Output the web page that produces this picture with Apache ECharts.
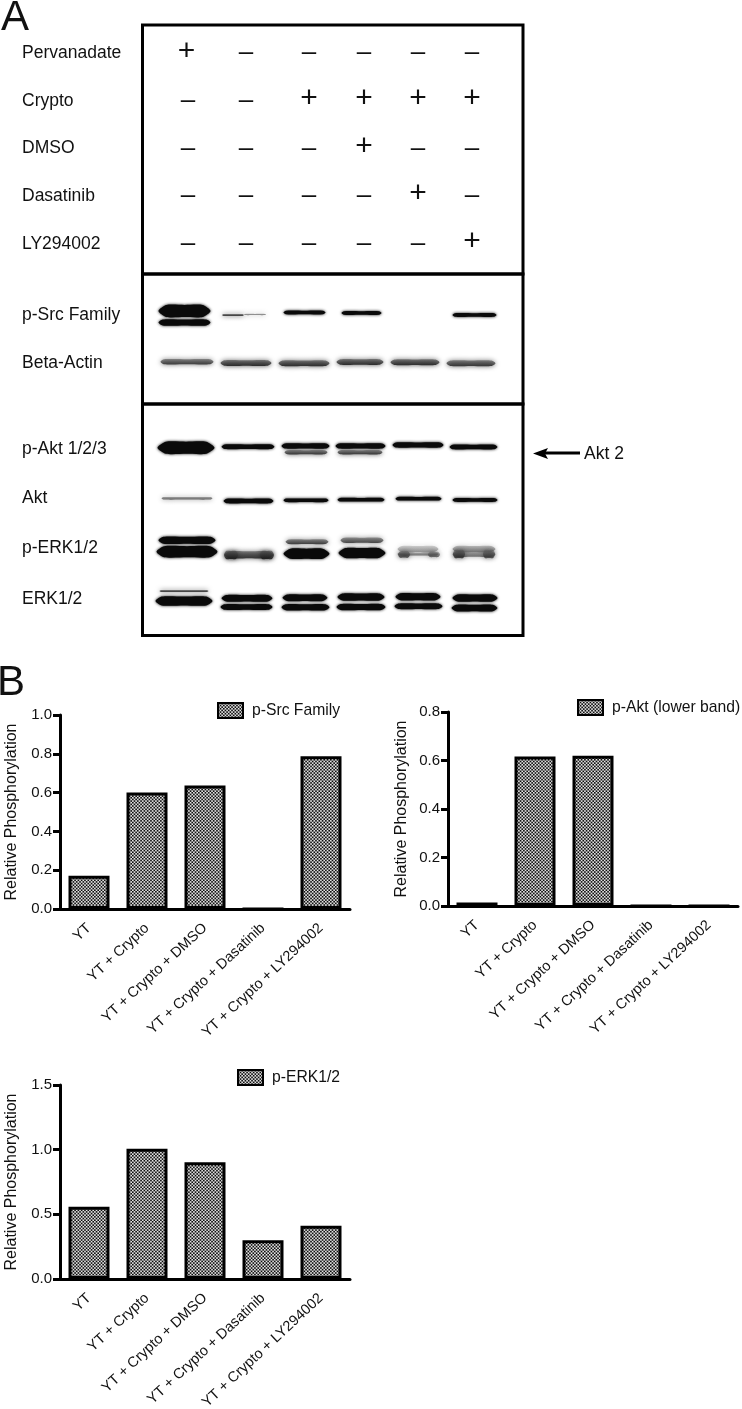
<!DOCTYPE html>
<html>
<head>
<meta charset="utf-8">
<script src="https://cdn.jsdelivr.net/npm/echarts@6/dist/echarts.min.js"></script>
<style>
  html, body { margin: 0; padding: 0; background: #fff; }
  #chart { width: 742px; height: 1409px; }
</style>
</head>
<body>
<div id="chart"></div>
<script>
// treatment table, panel A
var treatments = ['Pervanadate', 'Crypto', 'DMSO', 'Dasatinib', 'LY294002'];
var lanes = [45, 103, 166, 221, 275, 329];
var pervanadateSigns = ['+', '-', '-', '-', '-', '-'];
var cryptoSigns = ['-', '-', '+', '+', '+', '+'];
var dmsoSigns = ['-', '-', '-', '+', '-', '-'];
var dasatinibSigns = ['-', '-', '-', '-', '+', '-'];
var lySigns = ['-', '-', '-', '-', '-', '+'];

// blot bands: [position along membrane, migration, width, thickness, density]
var pSrcBands = [
    [41.5, 37, 52, 12, 1], [41.5, 48.5, 52, 6, 1],
    [90, 41, 22, 2, 0.8], [112, 40.5, 22, 1.2, 0.5],
    [161.5, 38.5, 42, 3.5, 1], [218.5, 39, 40, 3.5, 1], [331.5, 41, 44, 3.5, 1]
];
var actinBands = [
    [44, 87.7, 53, 5, 0.7], [103, 89, 51, 5.5, 0.8], [161, 89.3, 51, 5.5, 0.8],
    [217, 88, 47, 5.5, 0.8], [272, 88.3, 49, 5.5, 0.8], [328, 89.3, 49, 5.5, 0.75]
];
var pAktBands = [
    [43, 43.7, 57, 12, 1], [105, 42.7, 53, 4.5, 1],
    [162.5, 42, 48, 5, 1], [163, 48.3, 43, 4, 0.75],
    [217.5, 42, 50, 5, 1], [217, 48.3, 45, 4, 0.75],
    [275, 41, 51, 5, 1], [330.5, 43, 48, 4.5, 1]
];
var aktBands = [
    [44, 94.3, 51, 2.5, 0.55], [105.5, 97, 50, 4.5, 1], [163, 96.3, 45, 3.5, 1],
    [218, 95.7, 47, 3.5, 1], [275.5, 94.7, 46, 3.5, 1], [332, 96, 45, 3.5, 1]
];
var pErkBands = [
    [44, 136.3, 57, 7, 1], [44, 147.7, 61, 11, 1],
    [106, 150.7, 49, 7, 0.75], [88, 151, 14, 8, 0.8], [124, 151, 14, 8, 0.8],
    [164, 137.7, 43, 4.5, 0.7], [163.5, 149.7, 46, 10, 1],
    [219, 136.3, 43, 5, 0.65], [219, 149, 47, 10, 1],
    [275, 145, 41, 6, 0.2], [275, 150, 41, 3, 0.45], [261, 150.5, 12, 6, 0.65], [291, 150.5, 12, 5, 0.5],
    [331, 145, 43, 6, 0.35], [331, 150.3, 43, 5, 0.45], [316, 150, 12, 8, 0.7], [346, 150, 12, 8, 0.6]
];
var erkBands = [
    [41, 187, 49, 2, 0.8], [41, 197, 57, 9, 1],
    [104, 194.3, 51, 6.5, 1], [103.5, 203, 52, 5.5, 1],
    [162, 193.7, 45, 6.5, 1], [162.5, 203.3, 48, 6, 1],
    [218, 193, 47, 7, 1], [218, 203, 49, 6, 1],
    [275, 192.7, 45, 7, 1], [275.5, 202.3, 48, 5.5, 1],
    [332, 194, 45, 7, 1], [331.5, 204, 46, 6.5, 1]
];

// bar charts, panel B
var groups = ['YT', 'YT + Crypto', 'YT + Crypto + DMSO', 'YT + Crypto + Dasatinib', 'YT + Crypto + LY294002'];
var pSrcValues = [0.172, 0.601, 0.636, 0, 0.787];
var pAktValues = [0.014, 0.616, 0.62, 0, 0];
var pErkValues = [0.559, 1.007, 0.902, 0.3, 0.412];

var font = '"Liberation Sans", Arial, sans-serif';
var ink = '#111';

function makePattern() {
    var c = document.createElement('canvas');
    var cell = 1.65;
    c.width = 33;
    c.height = 33;
    var ctx = c.getContext('2d');
    ctx.fillStyle = '#e6e6e6';
    ctx.fillRect(0, 0, 33, 33);
    ctx.fillStyle = '#0c0c0c';
    for (var i = 0; i < 20; i++) {
        for (var j = 0; j < 20; j++) {
            if ((i + j) % 2 === 0) {
                ctx.fillRect(i * cell, j * cell, cell, cell);
            }
        }
    }
    return { image: c, repeat: 'repeat' };
}
var pattern = makePattern();

var signData = [];
[pervanadateSigns, cryptoSigns, dmsoSigns, dasatinibSigns, lySigns].forEach(function (row, r) {
    row.forEach(function (s, l) {
        signData.push([lanes[l], r, s === '+' ? 1 : 0]);
    });
});

function renderSign(params, api) {
    var p = api.coord([api.value(0), api.value(1)]);
    var plus = api.value(2) === 1;
    return {
        type: 'text',
        style: {
            x: p[0] + (plus && api.value(0) === lanes[0] ? -1.5 : 0),
            y: p[1] + (plus ? -2 : 0),
            text: plus ? '+' : '\u2013',
            fontFamily: font,
            fontSize: plus ? 30 : 26,
            fill: ink,
            align: 'center',
            verticalAlign: 'middle'
        }
    };
}

function renderBand(params, api) {
    var p = api.coord([api.value(0), api.value(1)]);
    var s = api.size([api.value(2), api.value(3)]);
    var d = api.value(4);
    var v = Math.round(10 + (1 - d) * 70);
    var col = 'rgba(' + v + ',' + v + ',' + v + ',' + (0.35 + 0.65 * d) + ')';
    var fill = col;
    if (d < 1) {
        // partial bands are paler on the upper edge
        var top = 'rgba(' + (v + 60) + ',' + (v + 60) + ',' + (v + 60) + ',' + (0.2 + 0.6 * d) + ')';
        fill = new echarts.graphic.LinearGradient(0, 0, 0, 1, [
            { offset: 0, color: top },
            { offset: 1, color: col }
        ]);
    }
    var x0 = p[0] - s[0] / 2;
    var x1 = p[0] + s[0] / 2;
    var t = Math.min(s[1] * 0.7, s[0] * 0.15);
    return {
        type: 'polygon',
        shape: {
            smooth: 0.25,
            points: [
                [x0, p[1]],
                [x0 + t, p[1] - s[1] / 2],
                [p[0], p[1] - s[1] / 2],
                [x1 - t, p[1] - s[1] / 2],
                [x1, p[1]],
                [x1 - t, p[1] + s[1] / 2],
                [p[0], p[1] + s[1] / 2],
                [x0 + t, p[1] + s[1] / 2]
            ]
        },
        style: { fill: fill, shadowBlur: d < 1 ? 5 : 3, shadowColor: col }
    };
}

function bandSeries(data, gridAxis) {
    return {
        type: 'custom',
        xAxisIndex: gridAxis,
        yAxisIndex: gridAxis,
        silent: true,
        clip: false,
        encode: { x: 0, y: 1 },
        data: data,
        renderItem: renderBand
    };
}

function gelAxes(height, idx) {
    return {
        x: { gridIndex: idx, type: 'value', min: 0, max: 380, show: false },
        y: { gridIndex: idx, type: 'value', min: 0, max: height, inverse: true, show: false }
    };
}

var treatmentGrid = { left: 143, top: 29.5, width: 380, height: 238, outerBoundsMode: 'none' };
var srcGrid = { left: 143, top: 274, width: 380, height: 130, outerBoundsMode: 'none' };
var aktGrid = { left: 143, top: 404, width: 380, height: 231, outerBoundsMode: 'none' };

var srcAxes = gelAxes(130, 1);
var aktAxes = gelAxes(231, 2);

var grids = [treatmentGrid, srcGrid, aktGrid];
var xAxes = [
    { gridIndex: 0, type: 'value', min: 0, max: 380, show: false },
    srcAxes.x,
    aktAxes.x
];
var yAxes = [
    {
        gridIndex: 0, type: 'category', inverse: true, data: treatments,
        axisLine: { show: false }, axisTick: { show: false },
        axisLabel: { align: 'left', margin: 121, fontFamily: font, fontSize: 17.5, color: ink }
    },
    srcAxes.y,
    aktAxes.y
];
var series = [
    {
        type: 'custom', xAxisIndex: 0, yAxisIndex: 0, silent: true,
        encode: { x: 0, y: 1 }, data: signData, renderItem: renderSign
    },
    bandSeries(pSrcBands, 1),
    bandSeries(actinBands, 1),
    bandSeries(pAktBands, 2),
    bandSeries(aktBands, 2),
    bandSeries(pErkBands, 2),
    bandSeries(erkBands, 2)
];
var legends = [];

function addBarChart(name, values, max, step, box, legendPos, nameGap) {
    var idx = grids.length;
    grids.push({ left: box.left, top: box.top, width: 290, height: 194, outerBoundsMode: 'none' });
    xAxes.push({
        gridIndex: idx, type: 'category', data: groups,
        axisLine: { lineStyle: { color: '#000', width: 3 } },
        axisTick: { alignWithLabel: true, length: 7, lineStyle: { color: '#000', width: 3 } },
        axisLabel: { interval: 0, rotate: 43, margin: 17, fontFamily: font, fontSize: 14.5, color: ink }
    });
    yAxes.push({
        gridIndex: idx, type: 'value', min: 0, max: max, interval: step,
        name: 'Relative Phosphorylation', nameLocation: 'middle', nameGap: nameGap,
        nameTextStyle: { fontFamily: font, fontSize: 16, color: ink },
        splitLine: { show: false },
        axisLine: { show: true, lineStyle: { color: '#000', width: 3 } },
        axisTick: { show: true, length: 7, lineStyle: { color: '#000', width: 3 } },
        axisLabel: { margin: 8, fontFamily: font, fontSize: 15, color: ink, formatter: function (v) { return v.toFixed(1); } }
    });
    series.push({
        name: name, type: 'bar', xAxisIndex: idx, yAxisIndex: idx,
        barWidth: 41,
        itemStyle: { color: pattern, borderColor: '#000', borderWidth: 3 },
        data: values
    });
    legends.push({
        data: [name], left: legendPos[0], top: legendPos[1], padding: 0,
        icon: 'rect', itemWidth: 25, itemHeight: 15, itemGap: 0,
        textStyle: { fontFamily: font, fontSize: 15.7, color: ink, padding: [0, 0, 0, 4] }
    });
}

addBarChart('p-Src Family', pSrcValues, 1, 0.2, { left: 60, top: 715 }, [217, 702], 40);
addBarChart('p-Akt (lower band)', pAktValues, 0.8, 0.2, { left: 448, top: 712 }, [577, 699], 38);
addBarChart('p-ERK1/2', pErkValues, 1.5, 0.5, { left: 60, top: 1085 }, [237, 1069], 40);

function frame(g) {
    return {
        type: 'rect',
        shape: { x: g.left, y: g.top, width: g.width, height: g.height },
        style: { fill: 'none', stroke: '#000', lineWidth: 3 }
    };
}

function sideLabel(text, y) {
    return {
        type: 'text', x: 22, y: y,
        style: { text: text, fontFamily: font, fontSize: 17.5, fill: ink, verticalAlign: 'middle' }
    };
}

var chart = echarts.init(document.getElementById('chart'));
chart.setOption({
    animation: false,
    backgroundColor: '#fff',
    grid: grids,
    xAxis: xAxes,
    yAxis: yAxes,
    legend: legends,
    series: series,
    graphic: [
        frame({ left: 142.5, top: 25, width: 380.5, height: 249 }),
        frame({ left: 142.5, top: 274, width: 380.5, height: 130 }),
        frame({ left: 142.5, top: 404, width: 380.5, height: 231.5 }),
        sideLabel('p-Src Family', 315),
        sideLabel('Beta-Actin', 363),
        sideLabel('p-Akt 1/2/3', 449),
        sideLabel('Akt', 498),
        sideLabel('p-ERK1/2', 548),
        sideLabel('ERK1/2', 599),
        { type: 'text', x: 1, y: 18, style: { text: 'A', fontFamily: font, fontSize: 42, fill: ink, verticalAlign: 'middle' } },
        { type: 'text', x: -3, y: 683.5, style: { text: 'B', fontFamily: font, fontSize: 42, fill: ink, verticalAlign: 'middle' } },
        { type: 'line', shape: { x1: 540, y1: 453, x2: 580, y2: 453 }, style: { stroke: '#000', lineWidth: 3 } },
        { type: 'polygon', shape: { points: [[533, 453.5], [548, 448], [545, 453.5], [548, 459]] }, style: { fill: '#000' } },
        { type: 'text', x: 584, y: 454, style: { text: 'Akt 2', fontFamily: font, fontSize: 17.5, fill: ink, verticalAlign: 'middle' } }
    ]
});
</script>
</body>
</html>
